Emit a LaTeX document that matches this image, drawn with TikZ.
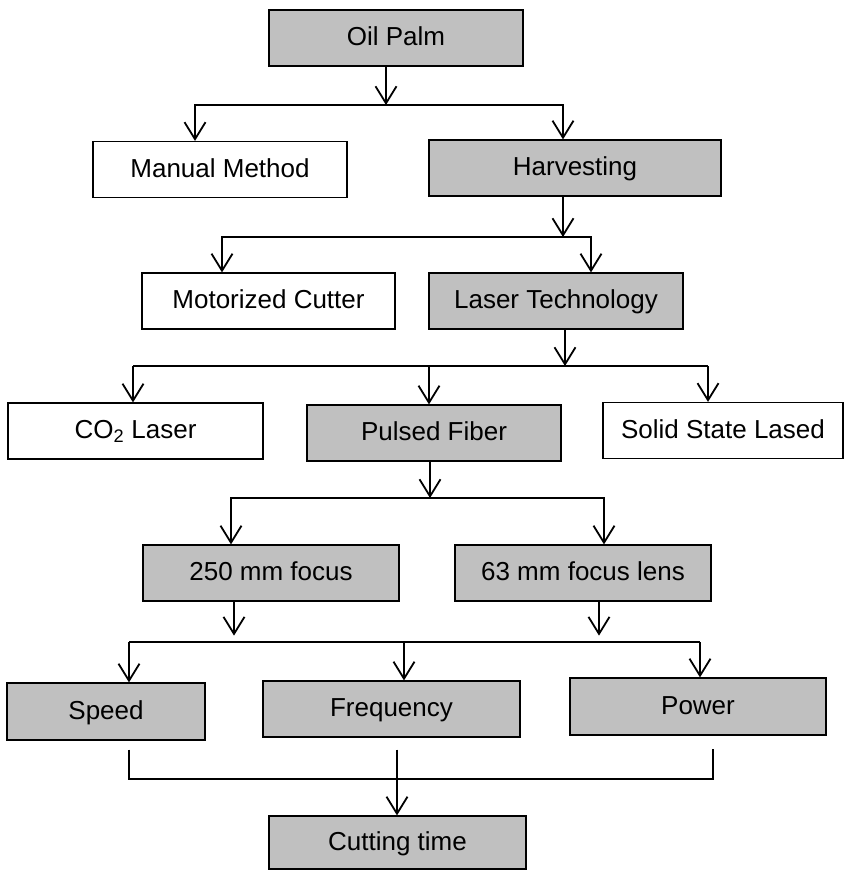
\documentclass[tikz,border=0pt]{standalone}
\usepackage{fontspec}
\setmainfont{Liberation Sans}
\usetikzlibrary{positioning, calc, arrows.meta}
\definecolor{Shade}{HTML}{C0C0C0}
\definecolor{Ink}{HTML}{000000}
\tikzset{
    plainbox/.style={rectangle, draw=Ink, line width=1.2pt, fill=white, text=Ink, align=center, inner sep=0pt, minimum height=56pt, text height=19pt, text depth=4pt, font=\fontsize{26}{30}\selectfont},
    shadebox/.style={plainbox, fill=Shade},
    link/.style={line width=1.8pt, color=Ink},
    arrow/.style={link, -{Straight Barb[length=17pt, width=21pt, line width=1.8pt]}},
}
\begin{document}
\begin{tikzpicture}[x=1pt, y=-1pt]
                \fill[white] (0,0) rectangle (853,870);
                \useasboundingbox (0,0) rectangle (853,870);
                % boxes
                \node[shadebox, minimum width=254pt] (oil) at (396,38) {Oil Palm};
                \node[plainbox, minimum width=254pt] (manual) at (220,169.5) {Manual Method};
                \node[shadebox, minimum width=292pt] (harv) at (575,168) {Harvesting};
                \node[plainbox, minimum width=253pt] (motor) at (268.5,301) {Motorized Cutter};
                \node[shadebox, minimum width=254pt] (laser) at (556,301) {Laser Technology};
                \node[plainbox, minimum width=255pt] (co2) at (135.5,431) {CO\textsubscript{2} Laser};
                \node[shadebox, minimum width=254pt] (pulsed) at (434,433) {Pulsed Fiber};
                \node[plainbox, minimum width=240pt] (solid) at (723,430.5) {Solid State Lased};
                \node[shadebox, minimum width=256pt] (f250) at (271,573) {250 mm focus};
                \node[shadebox, minimum width=256pt] (f63) at (583,573) {63 mm focus lens};
                \node[shadebox, minimum width=198pt, minimum height=57pt] (speed) at (106,711.5) {Speed};
                \node[shadebox, minimum width=257pt] (freq) at (391.5,709) {Frequency};
                \node[shadebox, minimum width=256pt, minimum height=57pt] (power) at (698,706.5) {Power};
                \node[shadebox, minimum width=257pt, minimum height=53pt] (cut) at (397.5,842.5) {Cutting time};
                
                % branch points
                \coordinate (bus1) at (386,105);
                \coordinate (bus2) at (563,237);
                \coordinate (bus3) at (565,366);
                \coordinate (bus4) at (430,498);
                \coordinate (bus5) at (0,642);
                \coordinate (bus6) at (0,779);
                
                \draw[arrow] (oil.south -| bus1) -- (bus1);
                \draw[arrow] (bus1) -| ($(manual.north)+(-25,0)$);
                \draw[arrow] (bus1) -| ($(harv.north)+(-12,0)$);
                
                \draw[arrow] (harv.south -| bus2) -- (bus2);
                \draw[arrow] (bus2) -| ($(motor.north)+(-46.5,0)$);
                \draw[arrow] (bus2) -| ($(laser.north)+(35,0)$);
                
                \draw[arrow] (laser.south -| bus3) -- (bus3);
                \draw[link] ($(co2.north |- bus3)+(-2.5,0)$) -- ($(solid.north |- bus3)+(-15,0)$);
                \foreach \n/\dx in {co2/-2.5, pulsed/-5, solid/-15}
                    \draw[arrow] ($(\n.north |- bus3)+(\dx,0)$) -- ($(\n.north)+(\dx,0)$);
                
                \draw[arrow] (pulsed.south -| bus4) -- (bus4);
                \draw[arrow] (bus4) -| ($(f250.north)+(-40,0)$);
                \draw[arrow] (bus4) -| ($(f63.north)+(21,0)$);
                
                \draw[arrow] ($(f250.south)+(-37,0)$) -- ++(0,34);
                \draw[arrow] ($(f63.south)+(16,0)$) -- ++(0,34);
                \draw[link] ($(speed.north |- bus5)+(23,0)$) -- ($(power.north |- bus5)+(2,0)$);
                \foreach \n/\dx in {speed/23, freq/12.5, power/2}
                    \draw[arrow] ($(\n.north |- bus5)+(\dx,0)$) -- ($(\n.north)+(\dx,0)$);
                
                \draw[link] ($(speed.south)+(23,9)$) |- ($(power.south |- bus6)+(15,0)$) -- ($(power.south)+(15,13)$);
                \draw[arrow] ($(freq.south)+(5.5,12)$) -- ($(cut.north)+(-0.5,0)$);
            \end{tikzpicture}
\end{document}
